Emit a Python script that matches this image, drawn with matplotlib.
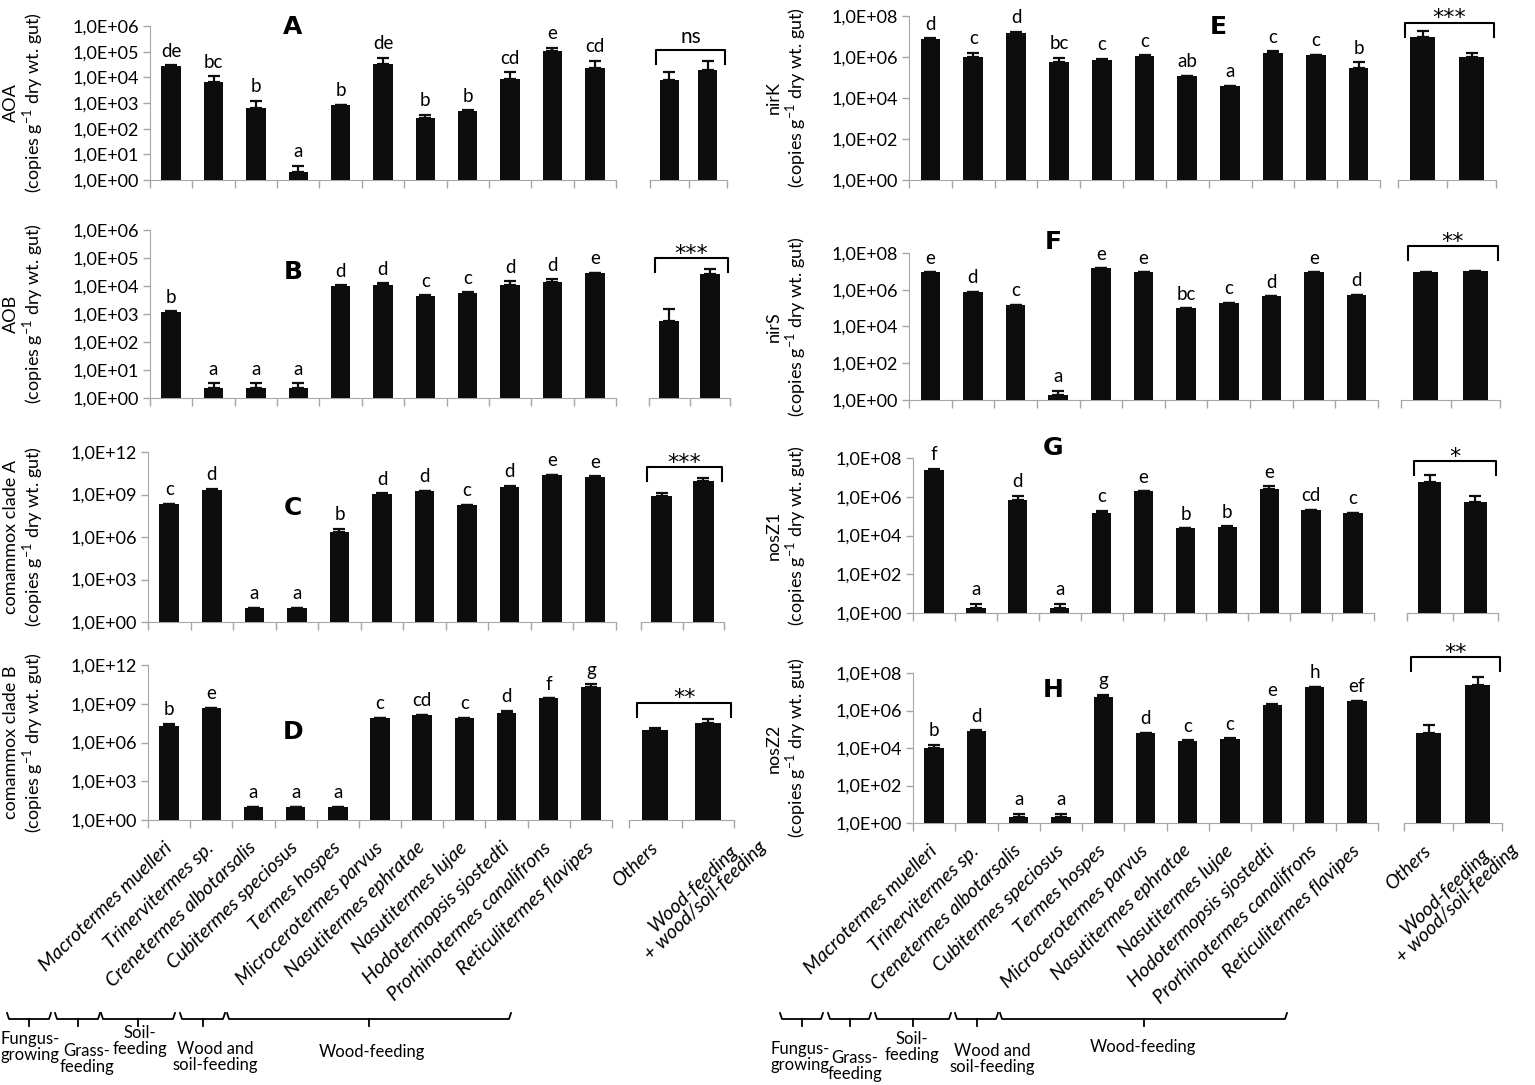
import matplotlib
matplotlib.use('Agg')
import matplotlib.pyplot as plt
from matplotlib.lines import Line2D
from matplotlib.ticker import FixedLocator, FuncFormatter, NullLocator
import numpy as np

plt.rcParams['font.family'] = ['Lato', 'DejaVu Sans']
plt.rcParams['mathtext.fontset'] = 'custom'
plt.rcParams['mathtext.rm'] = 'Lato'

species = ['Macrotermes muelleri', 'Trinervitermes sp.', 'Crenetermes albotarsalis',
           'Cubitermes speciosus', 'Termes hospes', 'Microcerotermes parvus',
           'Nasutitermes ephratae', 'Nasutitermes lujae', 'Hodotermopsis sjostedti',
           'Prorhinotermes canalifrons', 'Reticulitermes flavipes']
groups = ['Others', 'Wood-feeding\n+ wood/soil-feeding']

# A - AOA
aoa = [2.8e4, 6.6e3, 650, 2.1, 820, 3.4e4, 257, 490, 8.4e3, 1.1e5, 2.3e4]
aoa_err = [3.0e4, 1.1e4, 1.2e3, 3.5, 850, 5.9e4, 340, 520, 1.6e4, 1.45e5, 4.4e4]
aoa_let = ['de', 'bc', 'b', 'a', 'b', 'de', 'b', 'b', 'cd', 'e', 'cd']
aoa_grp = [7.7e3, 2.0e4]
aoa_grp_err = [1.6e4, 4.4e4]

# B - AOB
aob = [1.2e3, 2.3, 2.3, 2.3, 1.0e4, 1.1e4, 4.4e3, 5.8e3, 1.1e4, 1.4e4, 2.8e4]
aob_err = [1.25e3, 3.4, 3.4, 3.4, 1.05e4, 1.25e4, 4.6e3, 6.0e3, 1.45e4, 1.75e4, 2.9e4]
aob_let = ['b', 'a', 'a', 'a', 'd', 'd', 'c', 'c', 'd', 'd', 'e']
aob_grp = [540, 2.7e4]
aob_grp_err = [1.5e3, 4.0e4]

# C - comammox clade A
cmxa = [2e8, 2.2e9, 10, 10, 2.2e6, 1.1e9, 1.8e9, 1.7e8, 3.4e9, 2.2e10, 1.7e10]
cmxa_err = [2.3e8, 2.6e9, 10, 10, 3.9e6, 1.2e9, 1.9e9, 1.8e8, 4.0e9, 2.5e10, 2.0e10]
cmxa_let = ['c', 'd', 'a', 'a', 'b', 'd', 'd', 'c', 'd', 'e', 'e']
cmxa_grp = [7.4e8, 9e9]
cmxa_grp_err = [1.35e9, 1.5e10]

# D - comammox clade B
cmxb = [1.9e7, 4.4e8, 10.7, 10.7, 10.7, 7.4e7, 1.3e8, 7.4e7, 1.8e8, 2.6e9, 2.1e10]
cmxb_err = [2.7e7, 4.8e8, 10.7, 10.7, 10.7, 8e7, 1.45e8, 8e7, 2.8e8, 2.7e9, 3.2e10]
cmxb_let = ['b', 'e', 'a', 'a', 'a', 'c', 'cd', 'c', 'd', 'f', 'g']
cmxb_grp = [9.3e6, 3e7]
cmxb_grp_err = [1.25e7, 6.3e7]

# E - nirK
nirk = [7.4e6, 1e6, 1.55e7, 5.4e5, 7.5e5, 1.1e6, 1.15e5, 3.8e4, 1.5e6, 1.2e6, 2.9e5]
nirk_err = [8e6, 1.6e6, 1.65e7, 9.3e5, 8e5, 1.2e6, 1.25e5, 3.9e4, 1.9e6, 1.3e6, 5.4e5]
nirk_let = ['d', 'c', 'd', 'bc', 'c', 'c', 'ab', 'a', 'c', 'c', 'b']
nirk_grp = [9.5e6, 1e6]
nirk_grp_err = [1.8e7, 1.65e6]

# F - nirS
nirs = [8.9e6, 7.8e5, 1.5e5, 1.9, 1.5e7, 8.9e6, 9.6e4, 1.9e5, 4.3e5, 8.9e6, 5.3e5]
nirs_err = [8.9e6, 7.8e5, 1.5e5, 3.2, 1.5e7, 8.9e6, 9.6e4, 1.9e5, 4.3e5, 8.9e6, 5.3e5]
nirs_let = ['e', 'd', 'c', 'a', 'e', 'e', 'bc', 'c', 'd', 'e', 'd']
nirs_grp = [8.9e6, 1e7]
nirs_grp_err = [9.5e6, 1.05e7]

# G - nosZ1
nosz1 = [2.5e7, 1.9, 6.9e5, 1.9, 1.4e5, 1.9e6, 2.3e4, 2.9e4, 2.5e6, 2.1e5, 1.4e5]
nosz1_err = [2.7e7, 3.0, 1.1e6, 3.0, 1.9e5, 1.95e6, 2.4e4, 3.0e4, 3.4e6, 2.15e5, 1.45e5]
nosz1_let = ['f', 'a', 'd', 'a', 'c', 'e', 'b', 'b', 'e', 'cd', 'c']
nosz1_grp = [5.6e6, 5.6e5]
nosz1_grp_err = [1.35e7, 1.1e6]

# H - nosZ2
nosz2 = [1e4, 8.4e4, 2, 2, 5e6, 6.3e4, 2.5e4, 3.2e4, 2e6, 1.8e7, 3.1e6]
nosz2_err = [1.5e4, 8.9e4, 3.0, 3.0, 6.9e6, 6.6e4, 2.6e4, 3.3e4, 2.1e6, 1.85e7, 3.2e6]
nosz2_let = ['b', 'd', 'a', 'a', 'g', 'd', 'c', 'c', 'e', 'h', 'ef']
nosz2_grp = [6.3e4, 2.4e7]
nosz2_grp_err = [1.74e5, 6.2e7]

W, H = 1535, 1085
fig = plt.figure(figsize=(W / 100, H / 100), dpi=100)
GRAY = '#a6a6a6'
BAR = '#0d0d0d'


def box(l, t, r, b):
    return [l / W, 1 - b / H, (r - l) / W, (b - t) / H]


def fxy(x, y):
    return x / W, 1 - y / H


unit = r'(copies g$^{-1}$ dry wt. gut)'
panels = [
    dict(lab='AOA', L='A', v=aoa, e=aoa_err, t=aoa_let, gv=aoa_grp, ge=aoa_grp_err, sig='ns', brk=1.15e5,
         top=6, step=1, main=(150, 26, 616, 180), side=(650, 727), Lxy=(293, 27), yx=24, bottom=False),
    dict(lab='AOB', L='B', v=aob, e=aob_err, t=aob_let, gv=aob_grp, ge=aob_grp_err, sig='***', brk=1.0e5,
         top=6, step=1, main=(150, 230, 616, 398), side=(649, 730), Lxy=(293, 272), yx=24, bottom=False),
    dict(lab='comammox clade A', L='C', v=cmxa, e=cmxa_err, t=cmxa_let, gv=cmxa_grp, ge=cmxa_grp_err, sig='***',
         brk=8.7e10, top=12, step=3, main=(148, 452, 616, 622), side=(641, 724), Lxy=(293, 508), yx=24, bottom=False),
    dict(lab='comammox clade B', L='D', v=cmxb, e=cmxb_err, t=cmxb_let, gv=cmxb_grp, ge=cmxb_grp_err, sig='**',
         brk=1.2e9, top=12, step=3, main=(148, 665, 612, 820), side=(629, 734), Lxy=(293, 732), yx=24, bottom=True,
         gx=1.95),
    dict(lab='nirK', L='E', v=nirk, e=nirk_err, t=nirk_let, gv=nirk_grp, ge=nirk_grp_err, sig='***', brk=4.6e7,
         top=8, step=2, main=(909, 16, 1380, 180), side=(1398, 1496), Lxy=(1218, 27), yx=787, bottom=False),
    dict(lab='nirS', L='F', v=nirs, e=nirs_err, t=nirs_let, gv=nirs_grp, ge=nirs_grp_err, sig='**', brk=2.3e8,
         top=8, step=2, main=(909, 253, 1378, 400), side=(1401, 1500), Lxy=(1053, 242), yx=787, bottom=False),
    dict(lab='nosZ1', L='G', v=nosz1, e=nosz1_err, t=nosz1_let, gv=nosz1_grp, ge=nosz1_grp_err, sig='*', brk=6.6e7,
         top=8, step=2, main=(913, 458, 1374, 613), side=(1407, 1498), Lxy=(1053, 448), yx=787, bottom=False),
    dict(lab='nosZ2', L='H', v=nosz2, e=nosz2_err, t=nosz2_let, gv=nosz2_grp, ge=nosz2_grp_err, sig='**', brk=7e8,
         top=8, step=2, main=(913, 673, 1378, 823), side=(1404, 1502), Lxy=(1053, 690), yx=787, bottom=True,
         gx=1.65),
]


def style_axis(ax, n, top, step, show_y):
    ax.set_yscale('log')
    ax.set_ylim(1, 10 ** top)
    ax.set_xlim(-0.5, n - 0.5)
    for s in ['top', 'right']:
        ax.spines[s].set_visible(False)
    ax.spines['bottom'].set_color(GRAY)
    ax.spines['left'].set_color(GRAY)
    ax.xaxis.set_major_locator(FixedLocator(np.arange(n)))
    ax.xaxis.set_minor_locator(FixedLocator(np.arange(n + 1) - 0.5))
    ax.tick_params(axis='x', which='major', length=0, labelbottom=False)
    ax.tick_params(axis='x', which='minor', length=6, width=1, color=GRAY)
    ax.yaxis.set_minor_locator(NullLocator())
    if show_y:
        ax.yaxis.set_major_locator(FixedLocator([10.0 ** k for k in range(0, top + 1, step)]))
        ax.yaxis.set_major_formatter(FuncFormatter(lambda y, p: '1,0E+%02d' % round(np.log10(y))))
        ax.tick_params(axis='y', which='major', length=5, width=1, color=GRAY, labelsize=13, pad=3)
    else:
        ax.spines['left'].set_visible(False)
        ax.yaxis.set_major_locator(NullLocator())


def bars(ax, vals, errs, width):
    x = np.arange(len(vals))
    vals = np.array(vals, dtype=float)
    errs = np.array(errs, dtype=float)
    ax.bar(x, vals - 1, bottom=1, width=width, color=BAR, zorder=3)
    ax.errorbar(x, vals, yerr=[np.zeros_like(vals), errs - vals], fmt='none', ecolor=BAR,
                elinewidth=1.6, capsize=4.5, capthick=1.6, zorder=4)
    return x, np.maximum(vals, errs)


for p in panels:
    l, t, r, b = p['main']
    ax = fig.add_axes(box(l, t, r, b))
    style_axis(ax, len(p['v']), p['top'], p['step'], True)
    x, tops = bars(ax, p['v'], p['e'], 0.46)
    for xi, yi, s in zip(x, tops, p['t']):
        ax.annotate(s, (xi, yi), xytext=(0, 4), textcoords='offset points', ha='center', va='bottom',
                    fontsize=13.5, annotation_clip=False)

    sl, sr = p['side']
    ax2 = fig.add_axes(box(sl, t, sr, b))
    style_axis(ax2, 2, p['top'], p['step'], False)
    x2, tops2 = bars(ax2, p['gv'], p['ge'], 0.5)
    # significance bracket
    dpp = p['top'] / (b - t)
    yb = p['brk']
    yl = yb / 10 ** (14 * dpp)
    ax2.plot([-0.35, -0.35, 1.45, 1.45], [yl, yb, yb, yl], color='black', lw=1.5, clip_on=False, zorder=5)
    if p['sig'] == 'ns':
        ax2.annotate(p['sig'], (0.55, yb), xytext=(0, 2), textcoords='offset points', ha='center',
                     va='bottom', fontsize=15, annotation_clip=False)
    else:
        ax2.annotate(p['sig'], (0.55, yb), xytext=(0, -4), textcoords='offset points', ha='center',
                     va='bottom', fontsize=16, annotation_clip=False, family='DejaVu Sans')

    fig.text(*fxy(*p['Lxy']), p['L'], fontsize=18, fontweight='bold', ha='center', va='center',
             family='DejaVu Sans')
    fig.text(*fxy(p['yx'], (t + b) / 2), p['lab'] + '\n' + unit, rotation=90, ha='center',
             va='center', multialignment='center', fontsize=13, linespacing=1.1)

    if p['bottom']:
        for xi, s in zip(x, species):
            ax.annotate(s, (xi, 0), xycoords=('data', 'axes fraction'), xytext=(0, -18),
                        textcoords='offset points', rotation=44, rotation_mode='anchor', ha='right',
                        va='center', fontsize=14, style='italic', annotation_clip=False)
        ax2.annotate(groups[0], (0, 0), xycoords=('data', 'axes fraction'), xytext=(0, -18),
                     textcoords='offset points', rotation=44, rotation_mode='anchor', ha='right',
                     va='center', fontsize=14, style='italic', annotation_clip=False)
        ax2.annotate(groups[1], (p['gx'], 0), xycoords=('data', 'axes fraction'), xytext=(0, -13),
                     textcoords='offset points', rotation=44, rotation_mode='anchor', ha='right',
                     va='center', multialignment='center', fontsize=14, style='italic',
                     annotation_clip=False, linespacing=1.0)

# feeding-group braces below the species names
feeding = ['Fungus-\ngrowing', 'Grass-\nfeeding', 'Soil-\nfeeding', 'Wood and\nsoil-feeding', 'Wood-feeding']
brace_left = [(7, 51), (55, 100), (101, 175), (180, 225), (227, 511)]
label_left = [(30, 1047), (87, 1059), (140, 1041), (215, 1057), (372, 1052)]
brace_right = [(780, 823), (828, 871), (875, 951), (955, 998), (1000, 1287)]
label_right = [(800, 1057), (855, 1066), (912, 1047), (992, 1059), (1143, 1047)]

yb = 1019
for braces, labels in [(brace_left, label_left), (brace_right, label_right)]:
    for (x0, x1), (lx, ly), s in zip(braces, labels, feeding):
        xs = [x0, x0 + 2, x1 - 2, x1]
        ys = [yb - 6, yb, yb, yb - 6]
        fig.add_artist(Line2D([v / W for v in xs], [1 - v / H for v in ys], color='black', lw=1.3))
        xc = (x0 + x1) / 2
        fig.add_artist(Line2D([xc / W, xc / W], [1 - yb / H, 1 - (yb + 7) / H], color='black', lw=1.3))
        fig.text(*fxy(lx, ly), s, ha='center', va='center', multialignment='center', fontsize=12,
                 linespacing=1.05)

fig.savefig('out.png', dpi=100, facecolor='white')
